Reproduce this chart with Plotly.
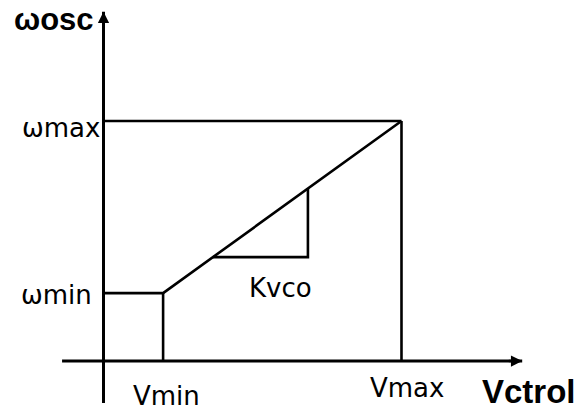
import numpy as np
import plotly.graph_objects as go

# VCO tuning characteristic (normalised units)
v_min, v_max = 0.2, 1.0          # control-voltage limits
w_min, w_max = 0.283, 1.0        # oscillation-frequency limits
kvco_span = [0.367, 0.686]       # control-voltage span used to illustrate the slope

curve_v = [0.0, v_min, v_max]
curve_w = [w_min, w_min, w_max]

axis_x_span = [-0.139, 1.405]
axis_y_span = [-0.175, 1.455]

def on_curve(v):
    return float(np.interp(v, curve_v, curve_w))

ink = "black"
lw = 2.6
fig = go.Figure()

def seg(xs, ys, width=lw):
    fig.add_trace(go.Scatter(x=xs, y=ys, mode="lines",
                             line=dict(color=ink, width=width),
                             hoverinfo="skip", showlegend=False))

# tuning curve
seg(curve_v, curve_w)
# guide lines to the axes
seg([v_min, v_min], [0, w_min])
seg([v_max, v_max], [0, w_max])
seg([0, v_max], [w_max, w_max])
# slope triangle
k0, k1 = kvco_span
seg([k0, k1, k1], [on_curve(k0), on_curve(k0), on_curve(k1)])

# axes with arrowheads
seg(axis_x_span, [0, 0], width=3)
seg([0, 0], axis_y_span, width=3)
for (hx, hy, tx, ty) in [(axis_x_span[1], 0, axis_x_span[1] - 0.05, 0),
                         (0, axis_y_span[1], 0, axis_y_span[1] - 0.06)]:
    fig.add_annotation(x=hx, y=hy, ax=tx, ay=ty, xref="x", yref="y",
                       axref="x", ayref="y", text="", showarrow=True,
                       arrowhead=2, arrowsize=0.9, arrowwidth=2.5,
                       arrowcolor=ink, standoff=0)

reg = dict(family="DejaVu Sans", size=26, color=ink)

def label(text, x, y, xanchor="center", yanchor="middle", font=reg, xshift=0, yshift=0):
    fig.add_annotation(x=x, y=y, xref="x", yref="y", text=text, showarrow=False,
                       xanchor=xanchor, yanchor=yanchor, font=font,
                       xshift=xshift, yshift=yshift)

label("ωosc", 0, axis_y_span[1], xanchor="right", xshift=-8, yshift=-8,
      font=dict(family="Liberation Sans", size=31, color=ink, weight="bold"))
label("ωmax", 0, w_max, xanchor="right", xshift=-2, yshift=-7)
label("ωmin", 0, w_min, xanchor="right", xshift=-10, yshift=-2)
label("Vmin", v_min, 0, yanchor="top", xshift=3, yshift=-18)
label("Vmax", v_max, 0, yanchor="top", xshift=6, yshift=-10)
label("Vctrol", axis_x_span[1], 0, yanchor="top", xshift=7, yshift=-10,
      font=dict(family="Liberation Sans", size=33, color=ink, weight="bold"))
label("Kvco", (k0 + k1) / 2, on_curve(k0), yanchor="top", xshift=20, yshift=-14)

fig.update_layout(
    width=578, height=411, margin=dict(l=0, r=0, t=0, b=0),
    plot_bgcolor="white", paper_bgcolor="white",
    xaxis=dict(range=[-0.3473, 1.5923], visible=False, fixedrange=True),
    yaxis=dict(range=[-0.2083, 1.5042], visible=False, fixedrange=True),
)

fig.write_html("out.html")
